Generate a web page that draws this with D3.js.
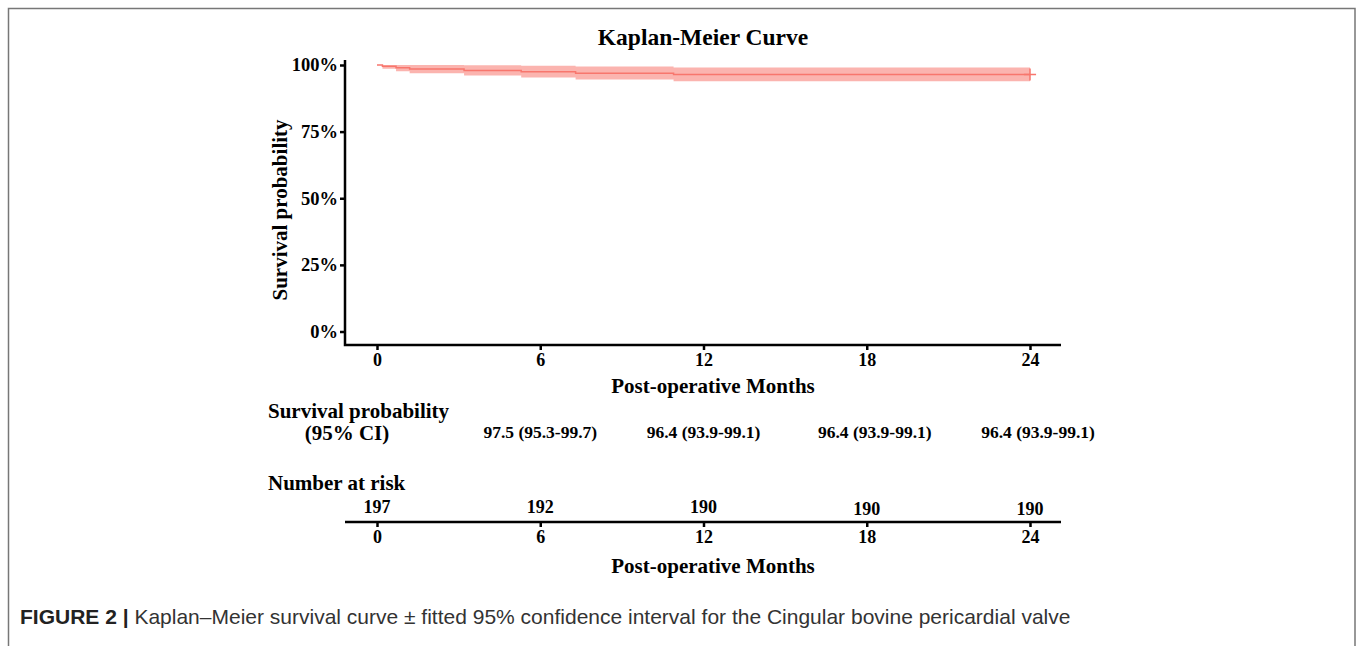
<!DOCTYPE html>
<html>
<head>
<meta charset="utf-8">
<script src="https://cdn.jsdelivr.net/npm/d3@7"></script>
<style>
    body { margin: 0; background: #fff; }
    svg text { font-family: "Liberation Serif", "Times New Roman", serif; font-weight: bold; fill: #000; }
    .caption text { font-family: "Liberation Sans", Arial, sans-serif; }
</style>
</head>
<body>
<div id="chart"></div>
<script>
// Kaplan-Meier estimates (months, percent)
let stepTimes = [0, 0.2, 0.7, 1.2, 3.2, 5.3, 7.3, 10.9, 24];
let survival  = [100, 99.49, 98.98, 98.48, 97.97, 97.46, 96.95, 96.45, 96.45];
let ciLower   = [100, 98.6, 97.7, 96.9, 96.1, 95.3, 94.6, 93.9, 93.9];
let ciUpper   = [100, 100, 100, 100, 99.9, 99.7, 99.4, 99.1, 99.1];
let censorTimes = [24];

let xTicks = [0, 6, 12, 18, 24];
let yTicks = [0, 25, 50, 75, 100];

let tableTimes = [6, 12, 18, 24];
let tableLabels = ["97.5 (95.3-99.7)", "96.4 (93.9-99.1)", "96.4 (93.9-99.1)", "96.4 (93.9-99.1)"];

let riskTimes = [0, 6, 12, 18, 24];
let riskCounts = [197, 192, 190, 190, 190];

let captionBold = "FIGURE 2 |";
let captionText = " Kaplan\u2013Meier survival curve \u00b1 fitted 95% confidence interval for the Cingular bovine pericardial valve";

let width = 1357, height = 646;

let svg = d3.select("#chart").append("svg")
    .attr("width", width)
    .attr("height", height);

// figure frame (top, left, right)
svg.append("path")
    .attr("d", "M8.5,646 L8.5,8.5 L1355,8.5 L1355,646")
    .attr("fill", "none")
    .attr("stroke", "#777")
    .attr("stroke-width", 1.5);

// scales
let x = d3.scaleLinear().domain([0, 24]).range([377, 1030]);
let y = d3.scaleLinear().domain([0, 100]).range([331.5, 65]);

// title
svg.append("text")
    .attr("x", 703).attr("y", 45)
    .attr("text-anchor", "middle")
    .style("font-size", "23.5px")
    .text("Kaplan-Meier Curve");

// confidence band + curve
let bandData = stepTimes.map((t, i) => ({ t: t, lo: ciLower[i], hi: ciUpper[i], s: survival[i] }));

let band = d3.area()
    .curve(d3.curveStepAfter)
    .x(d => x(d.t))
    .y0(d => y(d.lo))
    .y1(d => y(d.hi));

svg.append("path")
    .datum(bandData)
    .attr("d", band)
    .attr("fill", "#F8766D")
    .attr("fill-opacity", 0.55);

let line = d3.line()
    .curve(d3.curveStepAfter)
    .x(d => x(d.t))
    .y(d => y(d.s));

svg.append("path")
    .datum(bandData)
    .attr("d", line)
    .attr("fill", "none")
    .attr("stroke", "#F8766D")
    .attr("stroke-width", 1.5);

// censor marks
censorTimes.forEach(t => {
    let i = d3.bisectRight(stepTimes, t) - 1;
    svg.append("path")
        .attr("d", d3.symbol(d3.symbolPlus, 50)())
        .attr("transform", "translate(" + x(t) + "," + y(survival[i]) + ")")
        .attr("fill", "none")
        .attr("stroke", "#F8766D")
        .attr("stroke-width", 1.5);
});

// axes
function styleAxis(g, size) {
    g.select(".domain").remove();
    g.selectAll(".tick line").attr("stroke", "#000").attr("stroke-width", 2.5);
    g.selectAll(".tick text")
        .style("font-size", size)
        .style("font-family", "'Liberation Serif', serif")
        .style("font-weight", "bold")
        .attr("fill", "#000");
}

svg.append("g")
    .attr("transform", "translate(345,0)")
    .call(d3.axisLeft(y).tickValues(yTicks).tickFormat(d => d + "%").tickSize(5).tickPadding(2))
    .call(g => styleAxis(g, "18.5px"));

svg.append("g")
    .attr("transform", "translate(0,345)")
    .call(d3.axisBottom(x).tickValues(xTicks).tickSize(5).tickPadding(3))
    .call(g => styleAxis(g, "18px"));

// axis lines (L shape)
svg.append("path")
    .attr("d", "M345,60 L345,345 L1061,345")
    .attr("fill", "none")
    .attr("stroke", "#000")
    .attr("stroke-width", 2.5);

svg.append("text")
    .attr("transform", "translate(287,210) rotate(-90)")
    .attr("text-anchor", "middle")
    .style("font-size", "21px")
    .text("Survival probability");

svg.append("text")
    .attr("x", 713).attr("y", 393)
    .attr("text-anchor", "middle")
    .style("font-size", "21px")
    .text("Post-operative Months");

// survival probability table
svg.append("text")
    .attr("x", 268).attr("y", 418)
    .style("font-size", "21px")
    .text("Survival probability");

svg.append("text")
    .attr("x", 347).attr("y", 440)
    .attr("text-anchor", "middle")
    .style("font-size", "21px")
    .text("(95% CI)");

svg.selectAll(".ci-label")
    .data(tableTimes)
    .enter().append("text")
    .attr("class", "ci-label")
    .attr("x", d => x(d) + (d > 12 ? 8 : 0))
    .attr("y", 438)
    .attr("text-anchor", "middle")
    .style("font-size", "17.5px")
    .text((d, i) => tableLabels[i]);

// number at risk table
svg.append("text")
    .attr("x", 268).attr("y", 490)
    .style("font-size", "21px")
    .text("Number at risk");

svg.selectAll(".risk-label")
    .data(riskTimes)
    .enter().append("text")
    .attr("class", "risk-label")
    .attr("x", d => x(d))
    .attr("y", (d, i) => i > 2 ? 515 : 513)
    .attr("text-anchor", "middle")
    .style("font-size", "18px")
    .text((d, i) => riskCounts[i]);

svg.append("g")
    .attr("transform", "translate(0,522)")
    .call(d3.axisBottom(x).tickValues(xTicks).tickSize(5).tickPadding(3))
    .call(g => styleAxis(g, "18px"));

svg.append("path")
    .attr("d", "M345,522 L1061,522")
    .attr("stroke", "#000")
    .attr("stroke-width", 2.5);

svg.append("text")
    .attr("x", 713).attr("y", 573)
    .attr("text-anchor", "middle")
    .style("font-size", "21px")
    .text("Post-operative Months");

// caption
let cap = svg.append("g").attr("class", "caption")
    .append("text")
    .attr("x", 20).attr("y", 624)
    .style("font-size", "21px");

cap.append("tspan")
    .style("font-weight", "bold")
    .attr("fill", "#222")
    .text(captionBold);

cap.append("tspan")
    .style("font-weight", "normal")
    .attr("fill", "#333")
    .text(captionText);
</script>
</body>
</html>
